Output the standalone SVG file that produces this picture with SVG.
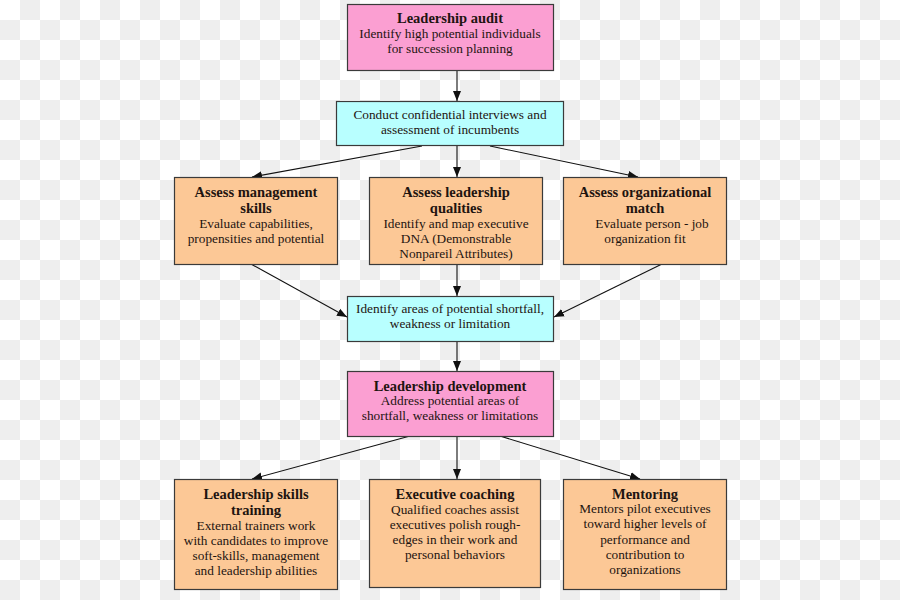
<svg xmlns="http://www.w3.org/2000/svg" width="900" height="600" viewBox="0 0 900 600">
<defs>
<pattern id="chk" width="40" height="40" patternUnits="userSpaceOnUse">
<rect width="40" height="40" fill="#ffffff"/>
<rect x="20" y="0" width="20" height="20" fill="#eeeeee"/>
<rect x="0" y="20" width="20" height="20" fill="#eeeeee"/>
</pattern>
<marker id="ah" viewBox="0 0 10 10" refX="10" refY="5" markerWidth="10" markerHeight="10" markerUnits="userSpaceOnUse" orient="auto">
<path d="M0,1 L10,5 L0,9 Z" fill="#111"/>
</marker>
<style>
.box{stroke:#3a3a3a;stroke-width:1.2}
.pink{fill:#fb9fd2}
.cyan{fill:#b8ffff}
.peach{fill:#fcc896}
text{font-family:"Liberation Serif","Times New Roman",serif;font-size:13.3px;fill:#1e1410;text-anchor:middle}
.b{font-weight:bold;font-size:14.5px}
.con line{stroke:#111;stroke-width:1.1;marker-end:url(#ah)}
</style>
</defs>
<rect width="900" height="600" fill="url(#chk)"/>

<g id="connectors" class="con">
<line x1="457" y1="70" x2="457" y2="101"/>
<line x1="422" y1="146" x2="252" y2="177"/>
<line x1="457" y1="145" x2="457" y2="177"/>
<line x1="490" y1="146" x2="638" y2="177"/>
<line x1="251" y1="264" x2="347" y2="317"/>
<line x1="457" y1="264" x2="457" y2="296"/>
<line x1="662" y1="264" x2="554" y2="317"/>
<line x1="457" y1="341" x2="457" y2="371"/>
<line x1="410" y1="436" x2="252" y2="479"/>
<line x1="457" y1="436" x2="457" y2="479"/>
<line x1="500" y1="436" x2="640" y2="479"/>
</g>

<g id="audit">
<rect class="box pink" x="347.5" y="4.5" width="206" height="66"/>
<text x="450" y="23" class="b">Leadership audit</text>
<text x="450" y="38">Identify high potential individuals</text>
<text x="450" y="53">for succession planning</text>
</g>

<g id="interviews">
<rect class="box cyan" x="336.5" y="101.5" width="227" height="44"/>
<text x="450" y="119">Conduct confidential interviews and</text>
<text x="450" y="134">assessment of incumbents</text>
</g>

<g id="mgmt">
<rect class="box peach" x="174.5" y="177.5" width="163" height="87"/>
<text x="256" y="197" class="b">Assess management</text>
<text x="256" y="213" class="b">skills</text>
<text x="256" y="228">Evaluate capabilities,</text>
<text x="256" y="243">propensities and potential</text>
</g>

<g id="qualities">
<rect class="box peach" x="369.5" y="177.5" width="173" height="87"/>
<text x="456" y="197" class="b">Assess leadership</text>
<text x="456" y="213" class="b">qualities</text>
<text x="456" y="228">Identify and map executive</text>
<text x="456" y="243">DNA (Demonstrable</text>
<text x="456" y="258">Nonpareil Attributes)</text>
</g>

<g id="match">
<rect class="box peach" x="563.5" y="177.5" width="163" height="87"/>
<text x="645" y="197" class="b">Assess organizational</text>
<text x="645" y="213" class="b">match</text>
<text x="652" y="228">Evaluate person - job</text>
<text x="645" y="243">organization fit</text>
</g>

<g id="shortfall">
<rect class="box cyan" x="347.5" y="296.5" width="206" height="45"/>
<text x="450" y="313">Identify areas of potential shortfall,</text>
<text x="450" y="328">weakness or limitation</text>
</g>

<g id="development">
<rect class="box pink" x="347.5" y="371.5" width="206" height="65"/>
<text x="450" y="391" class="b">Leadership development</text>
<text x="450" y="405">Address potential areas of</text>
<text x="450" y="420">shortfall, weakness or limitations</text>
</g>

<g id="training">
<rect class="box peach" x="174.5" y="479.5" width="163" height="110"/>
<text x="256" y="499" class="b">Leadership skills</text>
<text x="256" y="515" class="b">training</text>
<text x="256" y="530">External trainers work</text>
<text x="256" y="545">with candidates to improve</text>
<text x="256" y="560">soft-skills, management</text>
<text x="256" y="575">and leadership abilities</text>
</g>

<g id="coaching">
<rect class="box peach" x="369.5" y="479.5" width="171" height="108"/>
<text x="455" y="499" class="b">Executive coaching</text>
<text x="455" y="514">Qualified coaches assist</text>
<text x="455" y="529">executives polish rough-</text>
<text x="455" y="544">edges in their work and</text>
<text x="455" y="559">personal behaviors</text>
</g>

<g id="mentoring">
<rect class="box peach" x="563.5" y="479.5" width="163" height="110"/>
<text x="645" y="499" class="b">Mentoring</text>
<text x="645" y="513">Mentors pilot executives</text>
<text x="645" y="528">toward higher levels of</text>
<text x="645" y="544">performance and</text>
<text x="645" y="559">contribution to</text>
<text x="645" y="574">organizations</text>
</g>
</svg>
